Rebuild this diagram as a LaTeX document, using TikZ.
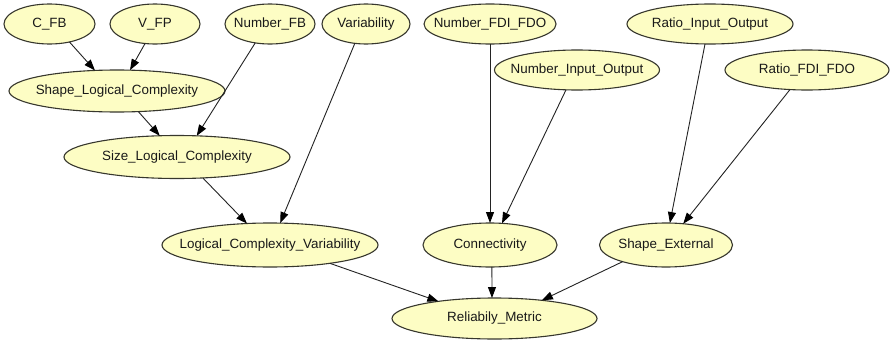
\documentclass[tikz,border=0pt]{standalone}
\usepackage{fontspec}
\setmainfont{Liberation Sans}
\usetikzlibrary{shapes.geometric,arrows.meta}
\definecolor{nodefill}{RGB}{253,253,196}
\definecolor{nodeline}{RGB}{55,55,45}
\definecolor{edgeline}{RGB}{35,35,35}
\definecolor{labeltext}{RGB}{25,25,25}
\tikzset{
  bn/.style 2 args={ellipse, draw=nodeline, line width=1.1pt, fill=nodefill,
    inner sep=0pt, outer sep=0pt, minimum width=#1, minimum height=#2,
    text=labeltext, font=\fontsize{13.4}{16}\selectfont},
  link/.style={draw=edgeline, line width=0.9pt,
    -{Triangle[length=11pt,width=8pt,color=black]}}
}
\begin{document}
\begin{tikzpicture}[x=1pt,y=-1pt]
\useasboundingbox[fill=white] (0,0) rectangle (892,340);
% input variables
\node[bn={91}{40}] (cfb) at (49.5,24) {\makebox[0pt]{C\_FB}};
\node[bn={90}{40}] (vfp) at (155,24) {\makebox[0pt]{V\_FP}};
\node[bn={90}{40}] (nfb) at (270,24) {\makebox[0pt]{Number\_FB}};
\node[bn={88}{40}] (var) at (366,24) {\makebox[0pt]{Variability}};
\node[bn={132}{40}] (nfdi) at (490,24) {\makebox[0pt]{Number\_FDI\_FDO}};
\node[bn={166}{40}] (rio) at (710,24) {\makebox[0pt]{Ratio\_Input\_Output}};
\node[bn={165}{40}] (nio) at (577,70) {\makebox[0pt]{Number\_Input\_Output}};
\node[bn={164}{40}] (rfdi) at (807,70) {\makebox[0pt]{Ratio\_FDI\_FDO}};
% intermediate factors
\node[bn={216}{42}] (sl) at (117,91) {\makebox[0pt]{Shape\_Logical\_Complexity}};
\node[bn={226}{43}] (size) at (177,157) {\makebox[0pt]{Size\_Logical\_Complexity}};
\node[bn={216}{44}] (lcv) at (270,245) {\makebox[0pt]{Logical\_Complexity\_Variability}};
\node[bn={134}{44}] (conn) at (490,245) {\makebox[0pt]{Connectivity}};
\node[bn={133}{44}] (se) at (666,245) {\makebox[0pt]{Shape\_External}};
% result
\node[bn={205}{41}] (rm) at (494.5,318.5) {\makebox[0pt]{Reliabily\_Metric}};
% dependencies
\draw[link] (cfb.-42) -- (sl.137);
\draw[link] (vfp.-117) -- (sl.58);
\draw[link] (sl.-44) -- (size.129);
\draw[link] (nfb.-128) -- (size.47);
\draw[link] (size.-39) -- (lcv.137);
\draw[link] (var.-120) -- (lcv.65);
\draw[link] (nfdi.south) -- (conn.north);
\draw[link] (nio.-119) -- (conn.61);
\draw[link] (rio.-104) -- (se.80);
\draw[link] (rfdi.-131) -- (se.51);
\draw[link] (lcv.-17) -- (rm.163);
\draw[link] (conn.-85) -- (rm.97);
\draw[link] (se.-159) -- (rm.21);
\end{tikzpicture}
\end{document}
